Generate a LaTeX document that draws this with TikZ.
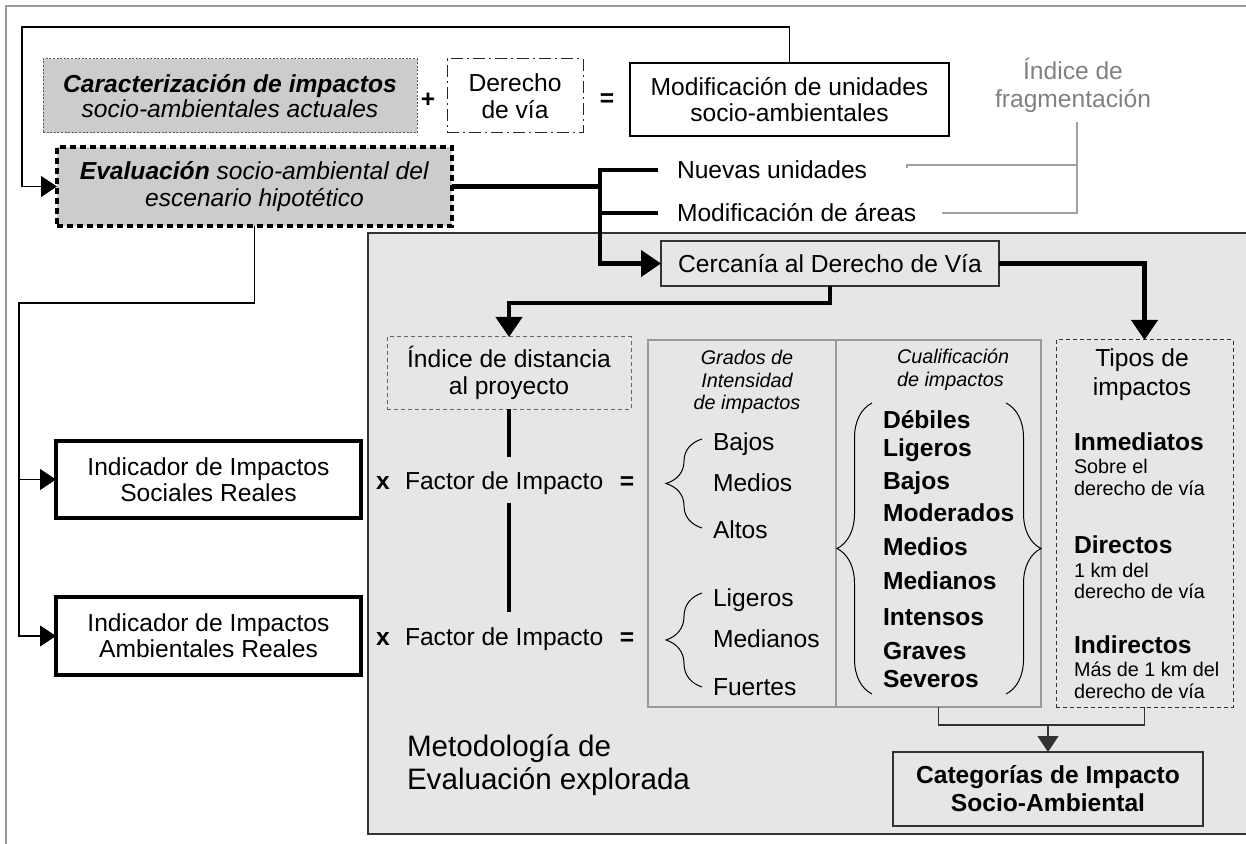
\documentclass[tikz,border=0pt]{standalone}
\usepackage{fontspec}
\setmainfont{Liberation Sans}
\usetikzlibrary{arrows.meta,decorations.pathreplacing}
\definecolor{boxgray}{HTML}{CCCCCC}
\definecolor{panelgray}{HTML}{E6E6E6}
\definecolor{fraggray}{HTML}{808080}
\definecolor{linegray}{HTML}{A0A0A0}
\definecolor{colgray}{HTML}{999999}
\definecolor{darkline}{HTML}{333333}
\begin{document}
\begin{tikzpicture}[x=0.5pt,y=-0.5pt,
  every node/.style={inner sep=0pt, outer sep=0pt},
  fm/.style={font=\fontsize{12.3}{#1}\selectfont}, fm/.default=13,
  fmb/.style={font=\fontsize{12.3}{#1}\selectfont\bfseries}, fmb/.default=13,
  fs/.style={font=\fontsize{9.9}{#1}\selectfont}, fs/.default=11,
  fsi/.style={font=\fontsize{9.9}{#1}\selectfont\itshape}, fsi/.default=11,
  fb/.style={font=\fontsize{14.8}{#1}\selectfont}, fb/.default=16.5,
  thk/.style={line width=2.2pt, line join=miter},
  thn/.style={line width=0.55pt},
  bigtip/.style={-{Triangle[length=10pt,width=13pt]}},
  smalltip/.style={-{Triangle[length=8pt,width=10.5pt]}},
  brc/.style={line width=0.5pt, decorate, decoration={brace, amplitude=#1}},
  lft/.style={anchor=base west},
]
\useasboundingbox (0,0) rectangle (1246,844);
% outer frame
\draw[colgray, line width=0.6pt] (6,844) -- (6,6) -- (1246,6);
% panel
\fill[panelgray] (368,233) rectangle (1246,834);
\draw[darkline, line width=0.6pt] (1246,233) -- (368,233) -- (368,834) -- (1246,834);

% top row
\node[draw=gray!70!black, fill=boxgray, dash pattern=on 1pt off 0.8pt, line width=0.5pt,
  minimum width=187pt, minimum height=37pt, align=center, fm=12.5] (car) at (230,96)
  {\textbf{\textit{Caracterización de impactos}}\\\textit{socio-ambientales actuales}};
\node[fmb] (plus) at (428,100) {+};
\node[draw=black!85, dash pattern=on 6pt off 2pt on 1pt off 2pt, line width=0.5pt, fill=white,
  minimum width=68pt, minimum height=37pt, align=center, fm=13.5] (der) at (515,96) {Derecho\\de vía};
\node[fmb] (eq0) at (607,100) {=};
\node[draw, line width=0.55pt, fill=white, minimum width=159.5pt, minimum height=36.5pt,
  align=center, fm=13] (mod) at (789.5,99.5) {Modificación de unidades\\socio-ambientales};
\node[text=fraggray, align=center, fm=14] (frag) at (1073,85) {Índice de\\fragmentación};

\node[draw, dash pattern=on 3pt off 2pt, line width=1.9pt, fill=boxgray,
  minimum width=197.5pt, minimum height=39.5pt, align=center, fm=13.75] (eva) at (254.5,186.5)
  {\textbf{\textit{Evaluación}} \textit{socio-ambiental del}\\\textit{escenario hipotético}};

\node[fm, lft] (nue) at (677,179) {Nuevas unidades};
\node[fm, lft] (are) at (677,222) {Modificación de áreas};

\node[draw=darkline, line width=0.6pt, fill=panelgray, minimum width=169pt, minimum height=22.5pt, fm]
  (cer) at (830,263.5) {Cercanía al Derecho de Vía};

\node[draw=gray!80!black, dash pattern=on 2pt off 1.5pt, line width=0.5pt, minimum width=122pt,
  minimum height=36pt, align=center, fm=13.5] (ind) at (509,373) {Índice de distancia\\al proyecto};

% columns
\node[draw=colgray, line width=0.6pt, minimum width=94pt, minimum height=183.5pt] (gra) at (742,523.5) {};
\node[draw=colgray, line width=0.6pt, minimum width=102.5pt, minimum height=183.5pt] (cua) at (938.5,523.5) {};
\node[draw=darkline, dash pattern=on 2pt off 1.5pt, line width=0.5pt, minimum width=88.5pt,
  minimum height=183.5pt] (tip) at (1144.5,523.5) {};

\node[fsi=11.25, align=center] (gt) at (747,382) {Grados de\\Intensidad\\de impactos};
\node[fsi=11.5, align=left, anchor=west] (ct) at (897,370) {Cualificación\\de impactos};
\node[fm=14.5, align=center] (tt) at (1142,375) {Tipos de\\impactos};

% factor rows
\node[fmb, anchor=base] (x1) at (383,489) {x};
\node[fm, lft] (f1) at (405,489) {Factor de Impacto};
\node[fmb, anchor=base] (e1) at (627,489) {=};
\node[fmb, anchor=base] (x2) at (383,645) {x};
\node[fm, lft] (f2) at (405,645) {Factor de Impacto};
\node[fmb, anchor=base] (e2) at (627,645) {=};

\node[fm, lft] (b1) at (713,450) {Bajos};
\node[fm, lft] (b2) at (713,491) {Medios};
\node[fm, lft] (b3) at (713,538) {Altos};
\node[fm, lft] (b4) at (713,606) {Ligeros};
\node[fm, lft] (b5) at (713,647) {Medianos};
\node[fm, lft] (b6) at (713,695) {Fuertes};

\draw[brc=18pt] (702,528) -- (702,439);
\draw[brc=18pt] (702,687) -- (702,593);
\draw[brc=17.5pt] (872,694) -- (872,403);
\draw[brc=17.5pt] (1006,403) -- (1006,694);

\node[fmb, lft] (q1) at (883,428) {Débiles};
\node[fmb, lft] (q2) at (883,456) {Ligeros};
\node[fmb, lft] (q3) at (883,489) {Bajos};
\node[fmb, lft] (q4) at (883,521) {Moderados};
\node[fmb, lft] (q5) at (883,555) {Medios};
\node[fmb, lft] (q6) at (883,589) {Medianos};
\node[fmb, lft] (q7) at (883,625) {Intensos};
\node[fmb, lft] (q8) at (883,659) {Graves};
\node[fmb, lft] (q9) at (883,687) {Severos};

\node[fmb, lft] (t1) at (1074,450) {Inmediatos};
\node[fs, lft] (t1a) at (1074,473) {Sobre el};
\node[fs, lft] (t1b) at (1074,495) {derecho de vía};
\node[fmb, lft] (t2) at (1074,553) {Directos};
\node[fs, lft] (t2a) at (1074,577) {1 km del};
\node[fs, lft] (t2b) at (1074,598) {derecho de vía};
\node[fmb, lft] (t3) at (1074,653) {Indirectos};
\node[fs, lft] (t3a) at (1074,676) {Más de 1 km del};
\node[fs, lft] (t3b) at (1074,698) {derecho de vía};

\node[draw=darkline, line width=0.6pt, fill=panelgray, minimum width=155pt, minimum height=37pt,
  align=center, fmb=14] (cat) at (1048,789) {Categorías de Impacto\\Socio-Ambiental};

\node[fb, align=left, anchor=west] (met) at (407,765) {Metodología de\\Evaluación explorada};

\node[draw, line width=1.7pt, fill=white, minimum width=152.5pt, minimum height=38.5pt,
  align=center, fm=13] (soc) at (208.5,479.5) {Indicador de Impactos\\Sociales Reales};
\node[draw, line width=1.7pt, fill=white, minimum width=152.5pt, minimum height=39pt,
  align=center, fm=13] (amb) at (208.5,636) {Indicador de Impactos\\Ambientales Reales};

% connectors
\coordinate (tl) at (22,27);
\draw[thn, smalltip] (mod.north) |- (tl) |- (eva.west);

\coordinate (bx) at (600,170);
\coordinate (nuE) at (658,170);
\coordinate (arE) at (658,213);
\draw[thk] (eva.east) -- (eva.east -| bx);
\draw[thk, bigtip] (nuE) -- (bx) |- (cer.west);
\draw[thk] (arE) -- (arE -| bx);

\draw[thk, bigtip] (cer.east) -| (tip.north);
\coordinate (ch) at (830,303);
\draw[thk, bigtip] (cer.south) -- (ch) -| (ind.north);

\coordinate (v1) at (509,457);
\coordinate (v2) at (509,503);
\coordinate (v3) at (509,612);
\draw[thk] (ind.south) -- (v1);
\draw[thk] (v2) -- (v3);

\coordinate (g1) at (907,168);
\coordinate (g2) at (907,165);
\coordinate (g3) at (1077,165);
\coordinate (g4) at (942,213);
\coordinate (g5) at (1077,122);
\draw[linegray, line width=0.6pt] (g1) -- (g2) -- (g3);
\draw[linegray, line width=0.6pt] (g4) -| (g5);

\coordinate (lc) at (19,303);
\draw[thn, smalltip] (eva.south) |- (lc) |- (amb.west);
\draw[thn, smalltip] (lc |- soc.west) -- (soc.west);

\coordinate (bm) at (1048,725);
\draw[thn, darkline] (cua.south) |- (bm) -| (tip.south);
\draw[thn, darkline, smalltip] (bm) -- (cat.north);
\end{tikzpicture}
\end{document}
